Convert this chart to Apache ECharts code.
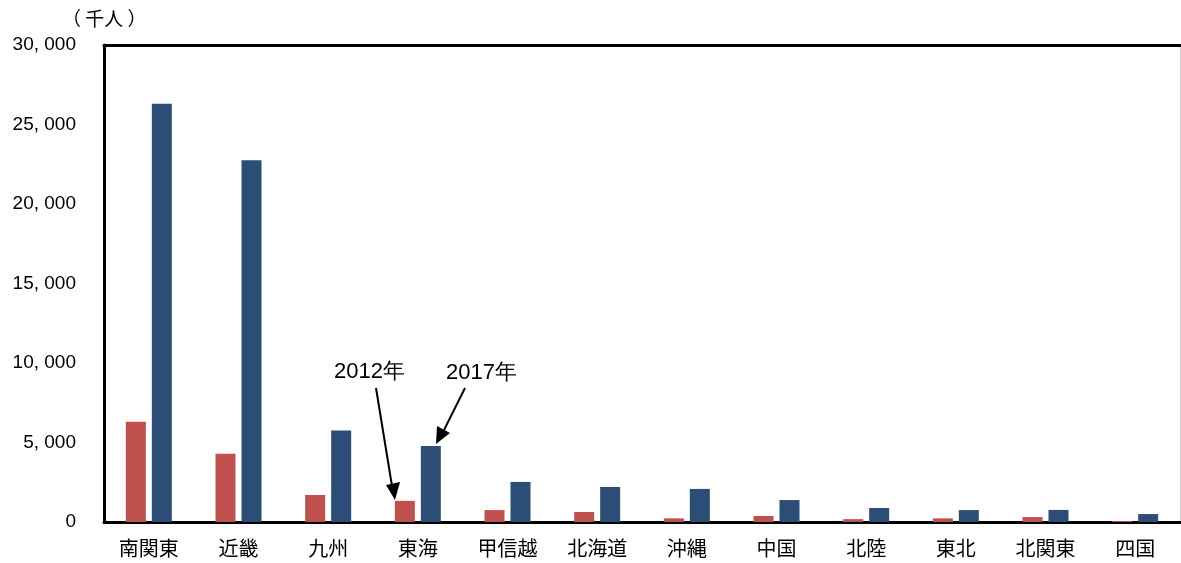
<!DOCTYPE html>
<html>
<head>
<meta charset="utf-8">
<script src="https://cdn.jsdelivr.net/npm/echarts@6/dist/echarts.min.js"></script>
<style>
  html, body { margin: 0; padding: 0; background: #fff; }
  #chart { width: 1181px; height: 563px; }
</style>
</head>
<body>
<div id="chart"></div>
<script>
// 地域区分
const regions = ['南関東', '近畿', '九州', '東海', '甲信越', '北海道', '沖縄', '中国', '北陸', '東北', '北関東', '四国']
// 延べ宿泊者数（千人）
const values2012 = [6300, 4300, 1700, 1330, 750, 630, 230, 380, 180, 230, 310, 60]
const values2017 = [26300, 22750, 5750, 4780, 2520, 2200, 2080, 1380, 880, 750, 760, 500]
const yTicks = [0, 5000, 10000, 15000, 20000, 25000, 30000]

const jpFont = '"Noto Sans CJK JP", sans-serif'
const numFont = '"Liberation Sans", Arial, sans-serif'

const chart = echarts.init(document.getElementById('chart'))

const option = {
  animation: false,
  grid: { left: 104, right: 1, top: 45, bottom: 41 },
  xAxis: [
    {
      type: 'category',
      data: regions,
      axisLine: { lineStyle: { color: '#000', width: 3 } },
      axisTick: { show: false },
      axisLabel: { color: '#000', fontSize: 20, fontFamily: jpFont, margin: 16 }
    },
    {
      type: 'category',
      position: 'top',
      data: regions,
      axisLine: { onZero: false, lineStyle: { color: '#000', width: 3 } },
      axisTick: { show: false },
      axisLabel: { show: false }
    }
  ],
  yAxis: [
    {
      type: 'value',
      min: yTicks[0],
      max: yTicks[yTicks.length - 1],
      interval: 5000,
      axisLine: { show: true, onZero: false, lineStyle: { color: '#000', width: 3 } },
      axisTick: { show: false },
      splitLine: { show: false },
      axisLabel: {
        color: '#000',
        fontSize: 19,
        fontFamily: numFont,
        margin: 28,
        formatter: v => v.toLocaleString('en-US').replace(',', ', ')
      }
    },
    {
      type: 'value',
      position: 'right',
      min: 0,
      max: 30000,
      axisLine: { show: true, onZero: false, lineStyle: { color: '#d0d0d0', width: 1 } },
      axisTick: { show: false },
      axisLabel: { show: false },
      splitLine: { show: false }
    }
  ],
  series: [
    {
      name: '2012年',
      type: 'bar',
      data: values2012,
      barWidth: 20,
      barGap: '30%',
      itemStyle: { color: '#C0504D' }
    },
    {
      name: '2017年',
      type: 'bar',
      data: values2017,
      barWidth: 20,
      itemStyle: { color: '#2C4D75' }
    }
  ],
  graphic: [
    {
      type: 'text',
      left: 62,
      top: 9,
      style: { text: '（ 千人 ）', fontSize: 19, fontFamily: jpFont, fill: '#000' }
    },
    {
      type: 'text',
      left: 334,
      top: 361,
      style: { text: '2012年', fontSize: 22, fontFamily: numFont, fill: '#000' }
    },
    {
      type: 'text',
      left: 446,
      top: 362,
      style: { text: '2017年', fontSize: 22, fontFamily: numFont, fill: '#000' }
    },
    // 矢印
    {
      type: 'line',
      shape: { x1: 376, y1: 388, x2: 392, y2: 486 },
      style: { stroke: '#000', lineWidth: 2 }
    },
    {
      type: 'polygon',
      shape: { points: [[386, 485], [400, 482], [395, 500]] },
      style: { fill: '#000' }
    },
    {
      type: 'line',
      shape: { x1: 465, y1: 388, x2: 444, y2: 430 },
      style: { stroke: '#000', lineWidth: 2 }
    },
    {
      type: 'polygon',
      shape: { points: [[437, 426], [450, 433], [436, 444]] },
      style: { fill: '#000' }
    }
  ]
}

chart.setOption(option)
</script>
</body>
</html>
